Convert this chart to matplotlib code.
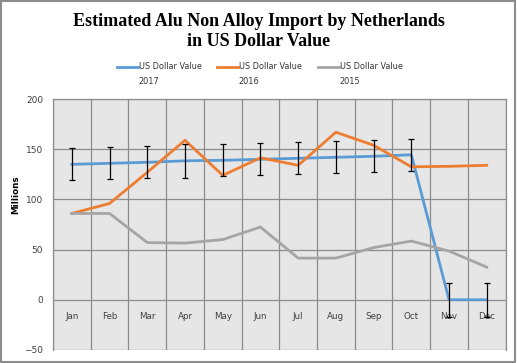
import numpy as np
import matplotlib
matplotlib.use("Agg")
import matplotlib.pyplot as plt
from matplotlib.lines import Line2D
from matplotlib.patches import Rectangle

months = ["Jan", "Feb", "Mar", "Apr", "May", "Jun", "Jul", "Aug", "Sep", "Oct", "Nov", "Dec"]
usd_2017 = [135, 136, 137, 138.5, 139, 140, 141, 142, 143, 144.5, 0, 0]
err_2017 = [16, 16, 16, 17, 16, 16, 16, 16, 16, 16, 17, 17]
usd_2016 = [86, 96, 127, 159, 124, 141.5, 134, 167, 154, 132.5, 133, 134]
usd_2015 = [86, 86, 57, 56.5, 60, 72.5, 41.5, 41.5, 52, 58.5, 48.5, 32.5]
series_labels = ["US Dollar Value\n2017", "US Dollar Value\n2016", "US Dollar Value\n2015"]
colors = ["#5b9bd5", "#ed7d31", "#a5a5a5"]

fig = plt.figure(figsize=(5.17, 3.63), dpi=100)
ax = fig.add_axes([0.1025, 0.036, 0.8755, 0.691])
ax.set_facecolor("#e6e6e6")

x = np.arange(len(months))
ax.errorbar(x, usd_2017, yerr=err_2017, fmt="none", ecolor="black",
            elinewidth=0.9, capsize=2.5, capthick=0.9, zorder=4)
ax.plot(x, usd_2017, color=colors[0], lw=2, zorder=3)
ax.plot(x, usd_2016, color=colors[1], lw=2, zorder=3)
ax.plot(x, usd_2015, color=colors[2], lw=2, zorder=3)

ax.set_xlim(-0.5, len(months) - 0.5)
ax.set_ylim(-50, 200)
ax.set_yticks([-50, 0, 50, 100, 150, 200])
ax.set_xticks(x)
ax.set_xticklabels(months)
ax.set_xticks(np.arange(-0.5, len(months), 1), minor=True)
ax.grid(True, which="minor", axis="x", color="#8c8c8c", lw=0.9)
ax.grid(True, which="major", axis="y", color="#8c8c8c", lw=0.9)
ax.set_axisbelow(True)
ax.tick_params(which="both", length=0)
ax.tick_params(axis="x", pad=9, labelsize=6.3, colors="#404040")
ax.tick_params(axis="y", pad=7, labelsize=6.5, colors="#404040")
for s in ax.spines.values():
    s.set_color("#8c8c8c")
    s.set_linewidth(0.9)
ax.spines["bottom"].set_position(("data", 0))
ax.spines["bottom"].set_visible(False)
ax.set_ylabel("Millions", fontsize=6.3, fontweight="bold")
ax.yaxis.set_label_coords(-0.073, 0.617)

fig.text(0.5, 0.913, "Estimated Alu Non Alloy Import by Netherlands\nin US Dollar Value",
         ha="center", va="center", fontsize=13, fontweight="bold",
         family="Liberation Serif", linespacing=1.28)

# legend
leg_x = [0.226, 0.42, 0.615]
for lx, lab, c in zip(leg_x, series_labels, colors):
    fig.add_artist(Line2D([lx, lx + 0.04], [0.815, 0.815], color=c, lw=2,
                          transform=fig.transFigure))
    fig.text(lx + 0.042, 0.828, lab, ha="left", va="top", fontsize=5.9,
             color="#333333", linespacing=1.75)

fig.add_artist(Rectangle((0.001, 0.002), 0.996, 0.995, transform=fig.transFigure,
                         fill=False, edgecolor="#8c8c8c", lw=1.5))

fig.savefig("out.png", dpi=100)
